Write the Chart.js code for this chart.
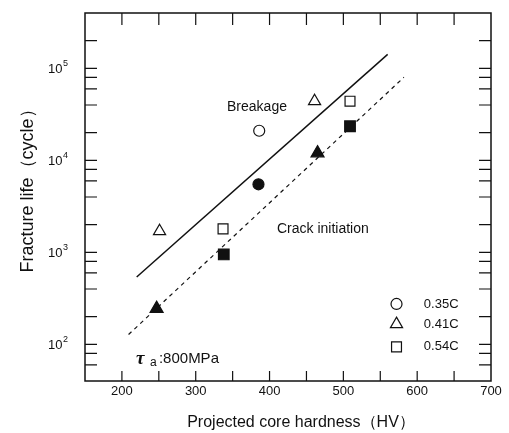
<!DOCTYPE html>
<html>
<head>
<meta charset="utf-8">
<script src="https://cdn.jsdelivr.net/npm/chart.js@4.4.0/dist/chart.umd.min.js"></script>
<style>
html, body { margin: 0; padding: 0; background: #fff; }
#wrap { width: 509px; height: 433px; }
</style>
</head>
<body>
<div id="wrap"><canvas id="lifeChart" width="509" height="433"></canvas></div>
<script>
// breakage = open marks, crack initiation = filled marks
const hvBreak035 = [386];
const lifeBreak035 = [21000];
const hvBreak041 = [251, 461];
const lifeBreak041 = [1700, 44000];
const hvBreak054 = [337, 509];
const lifeBreak054 = [1800, 44000];

const hvCrack035 = [385];
const lifeCrack035 = [5500];
const hvCrack041 = [247, 465];
const lifeCrack041 = [245, 12000];
const hvCrack054 = [338, 509];
const lifeCrack054 = [950, 23500];

// fitted lines
const breakLineHv = [220, 560];
const breakLineLife = [540, 142000];
const crackLineHv = [209, 582];
const crackLineLife = [128, 80000];

// axes
const xLabels = [200, 300, 400, 500, 600, 700];
const xMarks = [200, 250, 300, 350, 400, 450, 500, 550, 600, 650];
const yLabels = [100, 1000, 10000, 100000];
const yMarks = [60, 80, 100, 200, 400, 600, 800, 1000, 2000, 4000, 6000, 8000,
  10000, 20000, 40000, 60000, 80000, 100000, 200000];

const legendNames = ["0.35C", "0.41C", "0.54C"];
const legendStyles = ["circle", "triangle", "rect"];
const legendLife = [275, 166, 94];

const ink = "#111";
const font = "'Liberation Sans', Arial, sans-serif";

const pts = (xs, ys) => xs.map((x, i) => ({ x: x, y: ys[i] }));

function markSet(xs, ys, style, filled, r) {
  return {
    data: pts(xs, ys),
    showLine: false,
    pointStyle: style,
    pointRadius: r,
    pointBorderWidth: 1.2,
    pointBorderColor: ink,
    pointBackgroundColor: filled ? ink : "#fff",
    order: 1
  };
}

const decor = {
  id: "decor",
  afterDraw(chart) {
    const { ctx, chartArea: a, scales: { x, y } } = chart;
    ctx.save();
    ctx.strokeStyle = ink;
    ctx.fillStyle = ink;
    ctx.lineWidth = 1.5;
    ctx.strokeRect(a.left, a.top, a.width, a.height);

    ctx.lineWidth = 1.2;
    ctx.beginPath();
    xMarks.forEach(v => {
      const px = x.getPixelForValue(v);
      ctx.moveTo(px, a.bottom); ctx.lineTo(px, a.bottom - 10);
      ctx.moveTo(px, a.top); ctx.lineTo(px, a.top + 12);
    });
    yMarks.forEach(v => {
      const py = y.getPixelForValue(v);
      ctx.moveTo(a.left, py); ctx.lineTo(a.left + 12, py);
      ctx.moveTo(a.right, py); ctx.lineTo(a.right - 12, py);
    });
    ctx.stroke();

    // decade labels 10^n
    ctx.textBaseline = "middle";
    ctx.textAlign = "right";
    yLabels.forEach(v => {
      const py = y.getPixelForValue(v);
      const exp = String(Math.round(Math.log10(v)));
      ctx.font = "9px " + font;
      const ew = ctx.measureText(exp).width;
      ctx.fillText(exp, a.left - 17, py - 5);
      ctx.font = "13px " + font;
      ctx.fillText("10", a.left - 17 - ew - 0.5, py + 1);
    });

    // texts in the plot
    ctx.textAlign = "center";
    ctx.font = "14px " + font;
    ctx.fillText("Breakage", x.getPixelForValue(383), y.getPixelForValue(38000));
    ctx.textAlign = "left";
    ctx.fillText("Crack initiation", x.getPixelForValue(410), y.getPixelForValue(1795));

    // stress amplitude
    const sx = x.getPixelForValue(219);
    const sy = y.getPixelForValue(63);
    ctx.textBaseline = "alphabetic";
    ctx.font = "bold italic 19px 'Liberation Serif', serif";
    ctx.fillText("\u03c4", sx, sy + 1);
    ctx.font = "12px " + font;
    ctx.fillText("a", sx + 14, sy + 3);
    ctx.font = "15px " + font;
    ctx.fillText(":800MPa", sx + 23, sy);

    // legend
    ctx.textBaseline = "middle";
    ctx.font = "13px " + font;
    legendNames.forEach((name, i) => {
      const ly = y.getPixelForValue(legendLife[i]);
      const lx = x.getPixelForValue(572);
      ctx.fillStyle = "#fff";
      ctx.lineWidth = 1.2;
      Chart.helpers.drawPoint(ctx, { pointStyle: legendStyles[i], radius: i === 0 ? 5.5 : 7, rotation: 0, borderWidth: 1.2 }, lx, ly);
      ctx.fillStyle = ink;
      ctx.fillText(name, x.getPixelForValue(609), ly);
    });

    // axis titles
    ctx.textAlign = "center";
    ctx.textBaseline = "alphabetic";
    ctx.font = "16px " + font;
    ctx.fillText("Projected core hardness\uff08HV\uff09", 301, 426.5);
    ctx.translate(33, 186.5);
    ctx.rotate(-Math.PI / 2);
    ctx.font = "18px " + font;
    ctx.fillText("Fracture life\uff08cycle\uff09", 0, 0);
    ctx.restore();
  }
};

const chart = new Chart(document.getElementById("lifeChart"), {
  type: "scatter",
  data: {
    datasets: [
      {
        data: pts(breakLineHv, breakLineLife),
        showLine: true,
        borderColor: ink,
        borderWidth: 1.5,
        pointRadius: 0,
        order: 2
      },
      {
        data: pts(crackLineHv, crackLineLife),
        showLine: true,
        borderColor: ink,
        borderWidth: 1.2,
        borderDash: [4, 4],
        pointRadius: 0,
        order: 2
      },
      markSet(hvBreak035, lifeBreak035, "circle", false, 5.5),
      markSet(hvBreak041, lifeBreak041, "triangle", false, 7),
      markSet(hvBreak054, lifeBreak054, "rect", false, 7),
      markSet(hvCrack035, lifeCrack035, "circle", true, 5.5),
      markSet(hvCrack041, lifeCrack041, "triangle", true, 7.5),
      markSet(hvCrack054, lifeCrack054, "rect", true, 7.5)
    ]
  },
  options: {
    responsive: false,
    animation: false,
    layout: { padding: { top: 13, right: 18, left: 0, bottom: 0 } },
    plugins: { legend: { display: false }, tooltip: { enabled: false } },
    scales: {
      x: {
        type: "linear",
        min: 150,
        max: 700,
        grid: { display: false, drawTicks: false },
        border: { display: false },
        afterBuildTicks: s => { s.ticks = xLabels.map(v => ({ value: v })); },
        afterFit: s => { s.height = 52; s.paddingLeft = 0; s.paddingRight = 0; },
        ticks: { color: ink, font: { family: font, size: 13 }, padding: 3, maxRotation: 0, autoSkip: false }
      },
      y: {
        type: "logarithmic",
        min: 40,
        max: 400000,
        grid: { display: false, drawTicks: false },
        border: { display: false },
        afterBuildTicks: s => { s.ticks = yLabels.map(v => ({ value: v })); },
        afterFit: s => { s.width = 85; s.paddingTop = 0; s.paddingBottom = 0; },
        ticks: { display: false }
      }
    }
  },
  plugins: [decor]
});
</script>
</body>
</html>
